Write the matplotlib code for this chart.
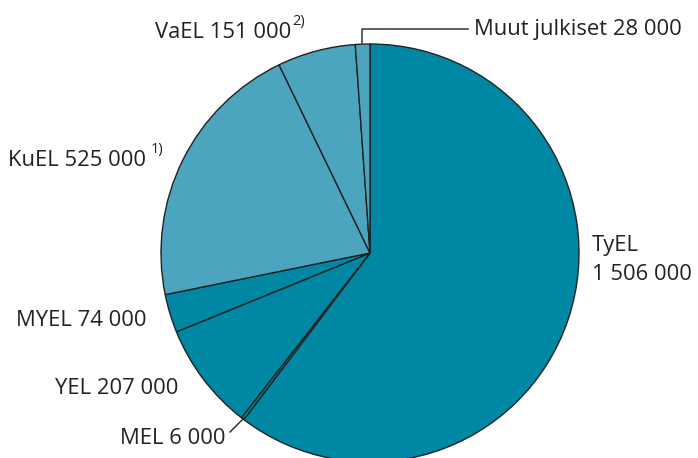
import matplotlib
matplotlib.use("Agg")
import matplotlib.pyplot as plt

labels = ["TyEL", "MEL", "YEL", "MYEL", "KuEL", "VaEL", "Muut julkiset"]
values = [1506000, 6000, 207000, 74000, 525000, 151000, 28000]
colors = ["#0087A3", "#0087A3", "#0087A3", "#0087A3", "#4CA5BF", "#4CA5BF", "#4CA5BF"]

W, H = 698, 458
fig = plt.figure(figsize=(W / 100, H / 100), dpi=100)
ax = fig.add_axes([0, 0, 1, 1])

def Y(y):
    return H - y

cx, cy, r = 370, 253, 209
ax.pie(values, colors=colors, startangle=90, counterclock=False,
       center=(cx, Y(cy)), radius=r, frame=True,
       wedgeprops=dict(edgecolor="#222222", linewidth=1.0))
ax.set_xlim(0, W)
ax.set_ylim(0, H)
ax.set_aspect("equal")
ax.axis("off")

font = "Open Sans"
fs = 15.8
tc = "#222222"

def txt(x, y, s, size=fs, **kw):
    ax.text(x, Y(y), s, fontsize=size, color=tc, family=font, va="center", ha="left", **kw)

def fmt(v):
    return f"{v:,}".replace(",", " ")

txt(155, 33, f"VaEL {fmt(values[5])}")
txt(292, 22, "2)", size=10.5)
txt(474, 30, f"Muut julkiset {fmt(values[6])}")
txt(8, 160, f"KuEL {fmt(values[4])}")
txt(151, 150, "1)", size=10.5)
txt(592, 245, labels[0])
txt(592, 275, fmt(values[0]))
txt(16, 320, f"MYEL {fmt(values[3])}")
txt(55, 388, f"YEL {fmt(values[2])}")
txt(120, 438, f"MEL {fmt(values[1])}")

# leader lines
ax.plot([362, 362, 468], [Y(44), Y(29), Y(29)], color="#444444", lw=1.2)
ax.plot([230, 244], [Y(432), Y(418)], color="#222222", lw=1.0)

fig.savefig("out.png", dpi=100)
